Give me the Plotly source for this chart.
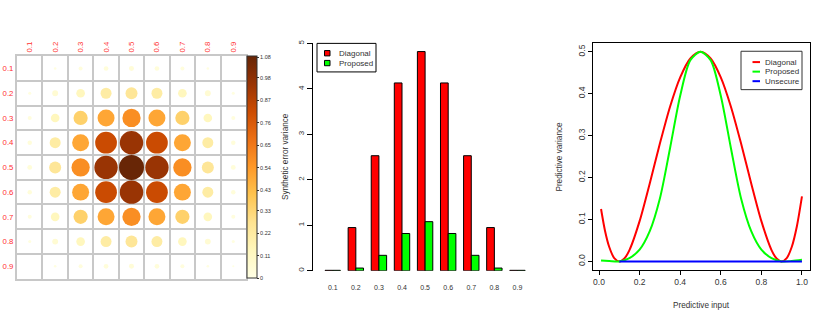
import numpy as np
import plotly.graph_objects as go

W, H = 830, 321
FONT = "Liberation Sans, Arial, Helvetica, sans-serif"
TXT = "#333333"

# ---------------- Panel 1: synthetic error variance matrix ----------------
mat_labels = ["0.1", "0.2", "0.3", "0.4", "0.5", "0.6", "0.7", "0.8", "0.9"]
row_01 = [0.000, 0.012, 0.028, 0.038, 0.043, 0.038, 0.028, 0.012, 0.000]
row_02 = [0.016, 0.060, 0.130, 0.210, 0.250, 0.210, 0.130, 0.060, 0.016]
row_03 = [0.028, 0.130, 0.350, 0.500, 0.580, 0.500, 0.350, 0.130, 0.028]
row_04 = [0.035, 0.210, 0.500, 0.820, 0.950, 0.820, 0.500, 0.210, 0.035]
row_05 = [0.040, 0.250, 0.580, 0.950, 1.080, 0.950, 0.580, 0.250, 0.040]
row_06 = [0.035, 0.210, 0.500, 0.820, 0.950, 0.820, 0.500, 0.210, 0.035]
row_07 = [0.028, 0.130, 0.350, 0.500, 0.580, 0.500, 0.350, 0.130, 0.028]
row_08 = [0.016, 0.060, 0.130, 0.210, 0.250, 0.210, 0.130, 0.060, 0.016]
row_09 = [0.000, 0.012, 0.028, 0.038, 0.043, 0.038, 0.028, 0.012, 0.008]
err_rows = [row_01, row_02, row_03, row_04, row_05, row_06, row_07, row_08, row_09]
cb_tick_labels = ["0", "0.11", "0.22", "0.33", "0.43", "0.54", "0.65", "0.76", "0.87", "0.98", "1.08"]
cb_max = 1.085

# ---------------- Panel 2: bar chart ----------------
bar_cats = ["0.1", "0.2", "0.3", "0.4", "0.5", "0.6", "0.7", "0.8", "0.9"]
bar_diagonal = [0.01, 0.95, 2.53, 4.13, 4.82, 4.13, 2.53, 0.95, 0.01]
bar_proposed = [0.01, 0.06, 0.34, 0.82, 1.08, 0.82, 0.34, 0.06, 0.01]

# ---------------- Panel 3: predictive variance curves ----------------
x_diagonal = [0.01, 0.03, 0.05, 0.075, 0.1, 0.125, 0.15, 0.2, 0.25, 0.3, 0.35, 0.4, 0.45, 0.5,
              0.55, 0.6, 0.65, 0.7, 0.75, 0.8, 0.85, 0.875, 0.9, 0.925, 0.95, 0.975, 1.0]
y_diagonal = [0.125, 0.072, 0.035, 0.008, 0.0, 0.007, 0.027, 0.096, 0.186, 0.281, 0.369, 0.439, 0.484, 0.5,
              0.484, 0.439, 0.369, 0.281, 0.186, 0.096, 0.027, 0.007, 0.0, 0.008, 0.035, 0.084, 0.155]
x_proposed = [0.01, 0.05, 0.1, 0.15, 0.2, 0.25, 0.3, 0.35, 0.4, 0.45, 0.5,
              0.55, 0.6, 0.65, 0.7, 0.75, 0.8, 0.85, 0.9, 0.95, 1.0]
y_proposed = [0.002, 0.001, 0.0, 0.008, 0.028, 0.072, 0.150, 0.270, 0.395, 0.480, 0.5,
              0.480, 0.395, 0.270, 0.150, 0.072, 0.028, 0.008, 0.0, 0.001, 0.004]
x_unsecure = [0.1, 1.0]
y_unsecure = [0.0, 0.0]

bar_names = ["Diagonal", "Proposed"]
bar_colors = ["#FF0000", "#00FF00"]
line_names = ["Diagonal", "Proposed", "Unsecure"]
line_colors = ["#FF0000", "#00FF00", "#0000FF"]


def px_x(p):
    return p / W


def px_y(p):
    return 1 - p / H


fig = go.Figure()

# circles of the matrix
n = len(mat_labels)
vals = np.array(err_rows, dtype=float)
cols_idx, rows_idx = np.meshgrid(np.arange(1, n + 1), np.arange(1, n + 1))
sizes = 25.0 * np.sqrt(vals / cb_max)
fig.add_trace(go.Scatter(
    x=cols_idx.ravel(), y=rows_idx.ravel(), mode="markers",
    marker=dict(size=sizes.ravel(), color=vals.ravel(), cmin=0, cmax=cb_max, opacity=1,
                colorscale="YlOrBr", line=dict(width=0),
                colorbar=dict(x=px_x(247), xanchor="left", y=px_y(166), yanchor="middle",
                              len=226 / H, lenmode="fraction", thickness=10, xpad=0, ypad=0,
                              outlinecolor="#333333", outlinewidth=1,
                              tickmode="array", tickvals=[float(t) for t in cb_tick_labels],
                              ticktext=cb_tick_labels, ticks="outside", ticklen=2,
                              tickcolor="#333333", tickfont=dict(size=5.5, color=TXT, family=FONT))),
    xaxis="x", yaxis="y", showlegend=False, hoverinfo="skip"))

# bars
for name, col, vals_b in zip(bar_names, bar_colors, [bar_diagonal, bar_proposed]):
    fig.add_trace(go.Bar(x=bar_cats, y=vals_b, name=name,
                         marker=dict(color=col, line=dict(color="black", width=1)),
                         xaxis="x2", yaxis="y2", showlegend=False))

# lines
line_x = [x_diagonal, x_proposed, x_unsecure]
line_y = [y_diagonal, y_proposed, y_unsecure]
for name, col, xs, ys in zip(line_names, line_colors, line_x, line_y):
    fig.add_trace(go.Scatter(x=xs, y=ys, mode="lines", name=name,
                             line=dict(color=col, width=2, shape="spline", smoothing=0.8),
                             xaxis="x3", yaxis="y3", showlegend=False))

grid_col = "#c8c8c8"
half_ticks = [i + 0.5 for i in range(n + 1)]

# legends drawn as boxed keys (R style)
shapes = []
annotations = []
# bar legend box
shapes.append(dict(type="rect", xref="paper", yref="paper", x0=px_x(317), x1=px_x(376), y0=px_y(69), y1=px_y(40),
                   line=dict(color="black", width=1), fillcolor="white", layer="above"))
for i, (name, col) in enumerate(zip(bar_names, bar_colors)):
    yc = 50 + 10 * i
    shapes.append(dict(type="rect", xref="paper", yref="paper", x0=px_x(324.5), x1=px_x(330), y0=px_y(yc + 2.7),
                       y1=px_y(yc - 2.7), line=dict(color="black", width=1), fillcolor=col, layer="above"))
    annotations.append(dict(text=name, x=px_x(337), y=px_y(yc), xref="paper", yref="paper", showarrow=False,
                            xanchor="left", yanchor="middle", font=dict(size=8, color=TXT)))
# line legend box
shapes.append(dict(type="rect", xref="paper", yref="paper", x0=px_x(741), x1=px_x(802), y0=px_y(87), y1=px_y(48),
                   line=dict(color="#333333", width=1), fillcolor="white", layer="above"))
for i, (name, col) in enumerate(zip(line_names, line_colors)):
    yc = 59 + 9.7 * i
    shapes.append(dict(type="line", xref="paper", yref="paper", x0=px_x(752.5), x1=px_x(760), y0=px_y(yc), y1=px_y(yc),
                       line=dict(color=col, width=2), layer="above"))
    annotations.append(dict(text=name, x=px_x(763), y=px_y(yc), xref="paper", yref="paper", showarrow=False,
                            xanchor="left", yanchor="middle", font=dict(size=8, color=TXT)))

annotations += [
    dict(text="Synthetic error variance", x=px_x(285), y=px_y(155.5), xref="paper", yref="paper",
         textangle=-90, showarrow=False, xanchor="center", yanchor="middle", font=dict(size=8.2, color=TXT)),
    dict(text="Predictive variance", x=px_x(560), y=px_y(155), xref="paper", yref="paper",
         textangle=-90, showarrow=False, xanchor="center", yanchor="middle", font=dict(size=8.2, color=TXT)),
    dict(text="Predictive input", x=px_x(701.5), y=px_y(306), xref="paper", yref="paper",
         showarrow=False, xanchor="center", yanchor="middle", font=dict(size=8.2, color=TXT)),
]

fig.update_layout(
    width=W, height=H, margin=dict(l=0, r=0, t=0, b=0),
    paper_bgcolor="white", plot_bgcolor="white",
    font=dict(family=FONT, size=8, color=TXT),
    barmode="group", bargap=1 / 3, bargroupgap=0, showlegend=False,
    xaxis=dict(domain=[px_x(17), px_x(246)], range=[0.5, n + 0.5], side="top",
               tickmode="array", tickvals=list(range(1, n + 1)), ticktext=mat_labels,
               tickangle=-90, tickfont=dict(color="#ff3030", size=7.8), ticks="",
               showgrid=False, zeroline=False, showline=True, mirror=True, linecolor=grid_col, linewidth=2,
               minor=dict(tickmode="array", tickvals=half_ticks, showgrid=True, gridcolor=grid_col, gridwidth=2, ticks=""),
               anchor="y", fixedrange=True),
    yaxis=dict(domain=[px_y(279), px_y(53)], range=[n + 0.5, 0.5],
               tickmode="array", tickvals=list(range(1, n + 1)), ticktext=mat_labels,
               tickfont=dict(color="#ff3030", size=7.8), ticks="",
               showgrid=False, zeroline=False, showline=True, mirror=True, linecolor=grid_col, linewidth=2,
               minor=dict(tickmode="array", tickvals=half_ticks, showgrid=True, gridcolor=grid_col, gridwidth=2, ticks=""),
               anchor="x", fixedrange=True),
    xaxis2=dict(domain=[px_x(313), px_x(529)], range=[-0.855, 8.5], type="category",
                ticks="outside", ticklen=10, tickcolor="rgba(0,0,0,0)", tickfont=dict(size=7),
                showgrid=False, zeroline=False, showline=False, anchor="y2"),
    yaxis2=dict(domain=[px_y(271), px_y(40)], range=[0, 5], dtick=1, tick0=0,
                ticks="outside", ticklen=5, tickcolor="black", tickangle=-90, tickfont=dict(size=8),
                showgrid=False, zeroline=False, showline=True, linecolor="black", linewidth=1, anchor="x2"),
    xaxis3=dict(domain=[px_x(593), px_x(810)], range=[-0.0296, 1.0396],
                tickmode="array", tickvals=[0, 0.2, 0.4, 0.6, 0.8, 1.0], tickformat=".1f",
                ticks="outside", ticklen=4, tickcolor="black", tickfont=dict(size=8.5),
                showgrid=False, zeroline=False, showline=True, mirror=True, linecolor="black", linewidth=1, anchor="y3"),
    yaxis3=dict(domain=[px_y(270), px_y(40)], range=[-0.02, 0.52],
                tickmode="array", tickvals=[0, 0.1, 0.2, 0.3, 0.4, 0.5], tickformat=".1f",
                ticks="outside", ticklen=4, tickcolor="black", tickangle=-90, tickfont=dict(size=8.5),
                showgrid=False, zeroline=False, showline=True, mirror=True, linecolor="black", linewidth=1, anchor="x3"),
    shapes=shapes,
    annotations=annotations,
)

fig.write_html("out.html", config={"displayModeBar": False, "staticPlot": True},
               post_script="document.body.style.margin='0';document.body.style.padding='0';")
